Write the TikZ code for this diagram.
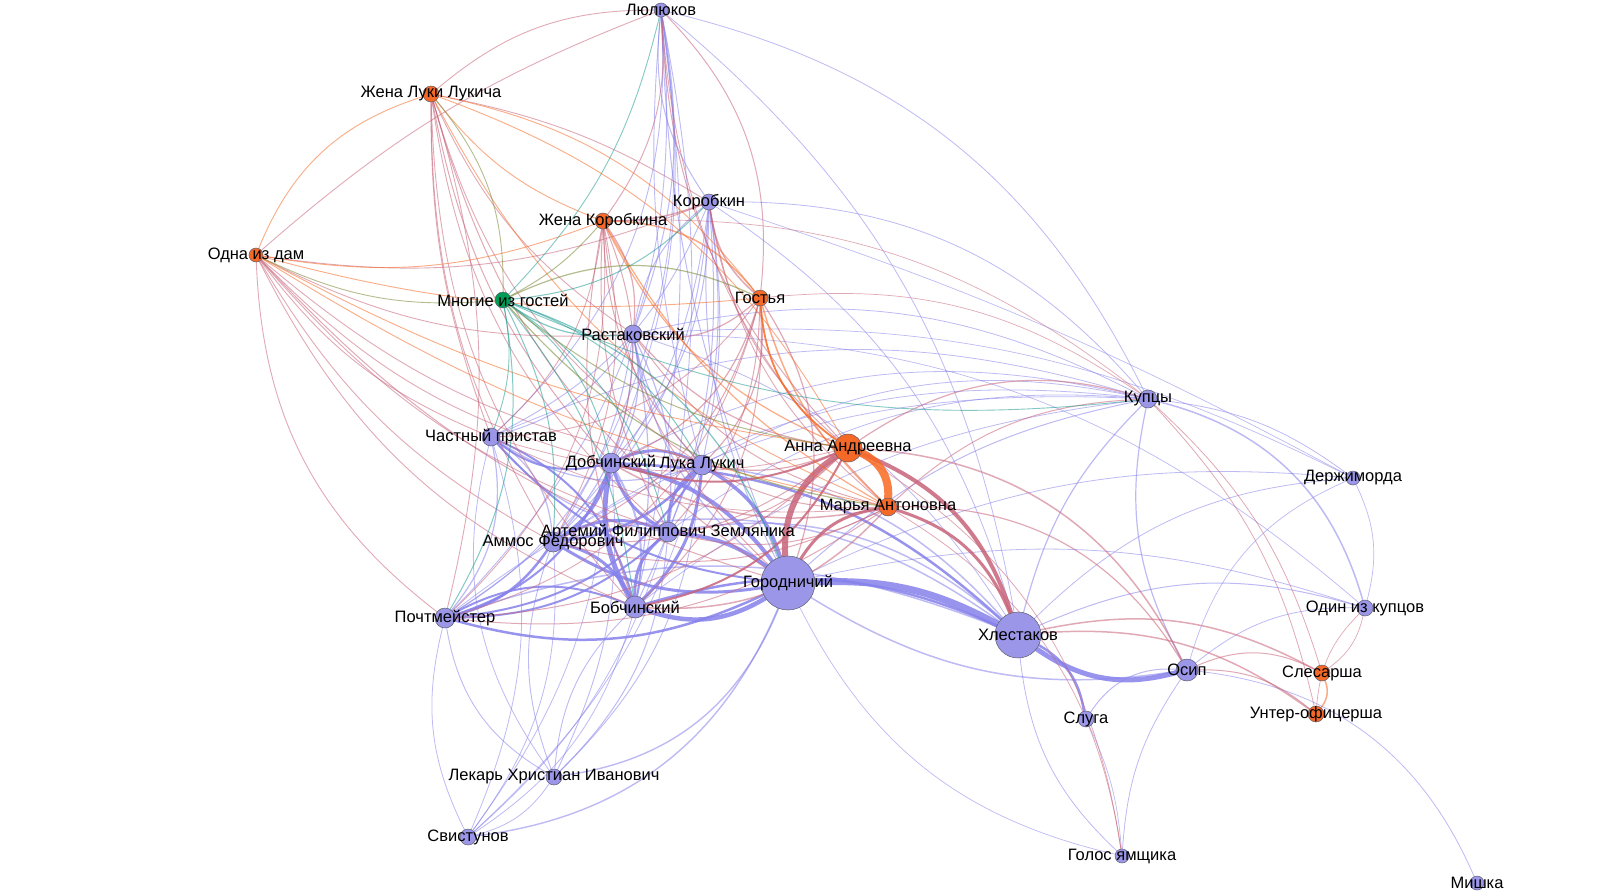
\documentclass[tikz,border=0pt]{standalone}
\usepackage{fontspec}
\setmainfont{Liberation Sans}
\pgfdeclarelayer{bg}
\pgfdeclarelayer{paper}
\pgfsetlayers{paper,bg,main}
\definecolor{nP}{RGB}{155,150,232}
\definecolor{nO}{RGB}{245,105,40}
\definecolor{nG}{RGB}{0,155,85}
\definecolor{nB}{RGB}{95,95,110}
\definecolor{eP}{RGB}{135,130,235}
\definecolor{eO}{RGB}{248,105,35}
\definecolor{eR}{RGB}{200,100,122}
\definecolor{eT}{RGB}{30,155,145}
\definecolor{eV}{RGB}{120,135,50}
\tikzset{
  vtx/.style={circle,draw=nB,line width=0.5pt,inner sep=0pt,minimum size=#1},
  pv/.style={vtx=#1,fill=nP},
  ov/.style={vtx=#1,fill=nO},
  gv/.style={vtx=#1,fill=nG},
  lbl/.style={font=\fontsize{16.5}{18}\selectfont,inner sep=0pt,text=black},
  ed/.style={draw opacity=0.55,line cap=round},
  thick edge/.style={draw opacity=0.85,line cap=round},
}
\newcommand\EdgeSet[2]{\foreach \a/\b/\w/\k in {#2}{\draw[ed,#1,line width=\w pt] (\a) to[bend left=\k] (\b);}}
\newcommand\HeavySet[2]{\foreach \a/\b/\w/\k in {#2}{\draw[thick edge,#1,line width=\w pt] (\a) to[bend left=\k] (\b);}}
\begin{document}
\begin{tikzpicture}[x=1pt,y=1pt]
\begin{pgfonlayer}{paper}
\fill[white] (0,0) rectangle (1600,-894);
\end{pgfonlayer}
\useasboundingbox (0,0) rectangle (1600,-894);
% vertices
\node[pv=14] (lyul) at (661,-10) {};
\node[ov=16] (zll) at (431,-94) {};
\node[pv=16] (kor) at (709,-202) {};
\node[ov=16] (zk) at (603,-221) {};
\node[ov=14] (dama) at (256,-255) {};
\node[gv=16] (mg) at (503,-300) {};
\node[ov=16] (gos) at (760,-298) {};
\node[pv=18] (ras) at (633,-334) {};
\node[pv=18] (kup) at (1148,-399) {};
\node[pv=18] (chp) at (491,-437) {};
\node[ov=28] (aa) at (848,-448) {};
\node[pv=20] (dob) at (611,-463) {};
\node[pv=20] (ll) at (702,-465) {};
\node[pv=14] (der) at (1353,-478) {};
\node[ov=18] (ma) at (888,-507) {};
\node[pv=20] (art) at (668,-532) {};
\node[pv=20] (amm) at (553,-542) {};
\node[pv=54] (gor) at (788,-583) {};
\node[pv=20] (poc) at (445,-618) {};
\node[pv=22] (bob) at (635,-607) {};
\node[pv=16] (odk) at (1365,-608) {};
\node[pv=46] (khl) at (1018,-635) {};
\node[pv=22] (osp) at (1187,-670) {};
\node[ov=16] (sle) at (1322,-673) {};
\node[ov=16] (unt) at (1316,-714) {};
\node[pv=16] (slu) at (1086,-719) {};
\node[pv=16] (lek) at (554,-777) {};
\node[pv=16] (svi) at (468,-837) {};
\node[pv=14] (gol) at (1122,-856) {};
\node[pv=14] (mis) at (1477,-883) {};
\begin{pgfonlayer}{bg}
% purple - purple, light
\EdgeSet{draw=eP}{lyul/gor/1/-10, lyul/kor/1/-20, lyul/ras/1/15, lyul/art/0.9/10, lyul/amm/0.9/20, lyul/ll/0.9/-10, lyul/poc/0.9/25, lyul/dob/0.9/15, lyul/bob/0.9/10, lyul/chp/0.9/25, lyul/kup/0.8/25, lyul/khl/0.8/20,
 kor/gor/1/-15, kor/ras/1/-20, kor/art/1/15, kor/amm/1/20, kor/ll/1/10, kor/poc/0.9/25, kor/dob/1/20, kor/bob/1/15, kor/khl/0.8/20, kor/chp/0.9/20, kor/kup/0.8/25, kor/der/0.7/5,
 ras/gor/1.2/-20, ras/art/1.2/15, ras/amm/1.2/20, ras/ll/1.2/-15, ras/poc/1/25, ras/dob/1.2/20, ras/bob/1.2/10, ras/khl/0.8/20, ras/chp/1/20, ras/der/0.7/15, ras/kup/0.8/20, ras/odk/0.7/20,
 dob/bob/2/20, khl/art/1.5/-25, khl/ll/1.5/-20, khl/amm/1.5/-25, khl/poc/1.5/-20,
 chp/art/1.2/-20, chp/ll/1.2/-25, chp/amm/1.2/25, chp/poc/1.2/25,
 gor/osp/1.5/-20, osp/slu/1/-30,
 lek/gor/1.4/-30, lek/art/1/-20, lek/amm/0.9/20, lek/ll/0.9/-20, lek/poc/0.9/25, lek/dob/0.9/-15, lek/bob/0.9/20, lek/svi/0.8/20, lek/chp/0.8/25,
 svi/gor/1.4/-30, svi/chp/0.8/-20, svi/dob/0.8/-15, svi/bob/0.8/-20, svi/poc/0.8/20, svi/art/0.8/-15, svi/amm/0.8/-20, svi/ll/0.8/-15,
 kup/khl/1.2/-15, kup/osp/1.2/-20, kup/odk/1.5/30, kup/gor/1/-15, kup/amm/0.8/-20, kup/art/0.8/-20, kup/ll/0.8/-20, kup/poc/0.8/-20, kup/dob/0.8/-20, kup/bob/0.8/-15, kup/chp/0.8/-20,
 der/kup/0.8/-15, der/gor/0.8/-15, der/khl/0.8/-20, der/osp/0.7/-25, der/odk/0.7/20,
 odk/khl/1/-20, odk/osp/0.8/-20, odk/gor/0.8/-15,
 khl/gol/0.8/-20, osp/gol/0.8/-15, gor/gol/0.7/-25, slu/gol/0.7/10, mis/osp/0.8/-30}
% purple - purple, heavy
\HeavySet{draw=eP}{gor/khl/7/15, khl/osp/5/-25, gor/bob/4.5/25, bob/dob/5/20, gor/dob/4/-20, gor/art/4/-15, gor/ll/3.5/-20, gor/amm/3/20, gor/poc/2.5/20, khl/slu/2.5/25,
 art/ll/3/25, art/amm/3/-25, ll/amm/2.5/20, art/dob/3/20, art/bob/3/-25, ll/dob/3/-25, ll/bob/3/20, amm/dob/3/-20, amm/bob/3/25, poc/dob/2/-25, poc/bob/2/25, poc/art/2/-20, poc/ll/2/-25, poc/amm/2.5/-20,
 khl/dob/2.5/-20, khl/bob/2.5/-20, gor/chp/2/20, chp/dob/2/-25, chp/bob/2/25}
% purple - orange
\EdgeSet{draw=eR}{aa/osp/1.5/30, ma/osp/1.2/30,
 khl/sle/1.5/20, khl/unt/1.5/20, osp/sle/1/25, osp/unt/1/20, kup/sle/0.8/15, kup/unt/0.8/15, odk/sle/0.7/20, odk/unt/0.7/-20,
 aa/gol/0.8/25, ma/gol/0.8/25, kup/aa/1.2/-25, kup/ma/1/-20, kup/zk/0.7/-20, kup/gos/0.7/-20,
 ma/dob/1.5/20, ma/bob/1.5/25, aa/art/1/20, aa/ll/1.2/15, aa/amm/1/20, aa/poc/1/20, ma/art/1/20, ma/ll/1/15, ma/amm/1/20, ma/poc/1/20, aa/chp/0.8/15, ma/chp/0.8/15,
 aa/lyul/1/20, aa/kor/1/20, aa/ras/1.2/20, ma/lyul/0.9/20, ma/kor/0.9/20, ma/ras/1/20,
 zll/lyul/0.9/20, zll/kor/0.9/10, zll/ras/0.9/-15, zll/gor/1/-20, zll/amm/0.9/-15, zll/art/0.9/-20, zll/ll/0.9/-20, zll/poc/0.9/15, zll/dob/1/-15, zll/bob/0.9/-20, zll/chp/0.9/-10,
 zk/lyul/1/-20, zk/kor/1.5/-10, zk/ras/1.2/20, zk/gor/1/-20, zk/amm/0.9/20, zk/art/1/-15, zk/ll/1/-20, zk/poc/0.9/25, zk/dob/1/20, zk/bob/1/-15, zk/chp/0.9/20,
 dama/lyul/0.9/10, dama/kor/0.9/-15, dama/ras/0.9/-15, dama/gor/1/-15, dama/amm/0.9/-15, dama/art/0.9/-15, dama/ll/0.9/-15, dama/poc/0.9/-25, dama/dob/0.9/-15, dama/bob/0.9/-20, dama/chp/0.9/-15,
 gos/lyul/1/-25, gos/kor/1.5/20, gos/ras/1.2/25, gos/gor/1.2/25, gos/amm/1/25, gos/art/1/20, gos/ll/1.2/25, gos/poc/0.9/30, gos/dob/1.2/25, gos/bob/1/25, gos/chp/0.9/25}
\HeavySet{draw=eR}{gor/aa/6/30, gor/ma/3/25, aa/khl/4/25, ma/khl/3/25, aa/dob/2/20, aa/bob/2/25}
% orange - orange
\EdgeSet{draw=eO}{sle/unt/1.5/30, gos/ma/1.5/-15, zk/aa/1.2/-20, zk/ma/1.2/-15, zll/aa/0.9/20, zll/ma/0.9/-20, dama/aa/0.9/-10, dama/ma/0.9/-10, zll/zk/0.9/-15, zll/dama/0.9/-25, zk/gos/1.5/25, dama/gos/0.9/-10, zll/gos/0.9/20, zk/dama/0.9/15}
\HeavySet{draw=eO}{aa/ma/8/35, gos/aa/1.8/-25}
% green - purple
\EdgeSet{draw=eT}{lyul/mg/0.9/15, mg/kor/1/-20, mg/ras/1.2/-20, mg/gor/1.2/25, mg/amm/1/15, mg/art/1/20, mg/ll/1/20, mg/poc/1/20, mg/dob/1/20, mg/bob/1/15, mg/chp/0.9/15, kup/mg/0.9/15}
% green - orange
\EdgeSet{draw=eV}{zll/mg/0.9/20, mg/zk/1/-10, mg/dama/0.9/15, mg/gos/1.2/25, mg/aa/1/-15, mg/ma/1.2/-20}
\end{pgfonlayer}
% labels
\node[lbl] (t-lyul) at (lyul) {Люлюков};
\node[lbl] (t-zll) at (zll) {Жена Луки Лукича};
\node[lbl] (t-kor) at (kor) {Коробкин};
\node[lbl] (t-zk) at (zk) {Жена Коробкина};
\node[lbl] (t-dama) at (dama) {Одна из дам};
\node[lbl] (t-mg) at (mg) {Многие из гостей};
\node[lbl] (t-gos) at (gos) {Гостья};
\node[lbl] (t-ras) at (ras) {Растаковский};
\node[lbl] (t-kup) at (kup) {Купцы};
\node[lbl] (t-chp) at (chp) {Частный пристав};
\node[lbl] (t-aa) at (aa) {Анна Андреевна};
\node[lbl] (t-dob) at (dob) {Добчинский};
\node[lbl] (t-ll) at (ll) {Лука Лукич};
\node[lbl] (t-der) at (der) {Держиморда};
\node[lbl] (t-ma) at (ma) {Марья Антоновна};
\node[lbl] (t-art) at (art) {Артемий Филиппович Земляника};
\node[lbl] (t-amm) at (amm) {Аммос Федорович};
\node[lbl] (t-gor) at (gor) {Городничий};
\node[lbl] (t-poc) at (poc) {Почтмейстер};
\node[lbl] (t-bob) at (bob) {Бобчинский};
\node[lbl] (t-odk) at (odk) {Один из купцов};
\node[lbl] (t-khl) at (khl) {Хлестаков};
\node[lbl] (t-osp) at (osp) {Осип};
\node[lbl] (t-sle) at (sle) {Слесарша};
\node[lbl] (t-unt) at (unt) {Унтер-офицерша};
\node[lbl] (t-slu) at (slu) {Слуга};
\node[lbl] (t-lek) at (lek) {Лекарь Христиан Иванович};
\node[lbl] (t-svi) at (svi) {Свистунов};
\node[lbl] (t-gol) at (gol) {Голос ямщика};
\node[lbl] (t-mis) at (mis) {Мишка};
\end{tikzpicture}
\end{document}
